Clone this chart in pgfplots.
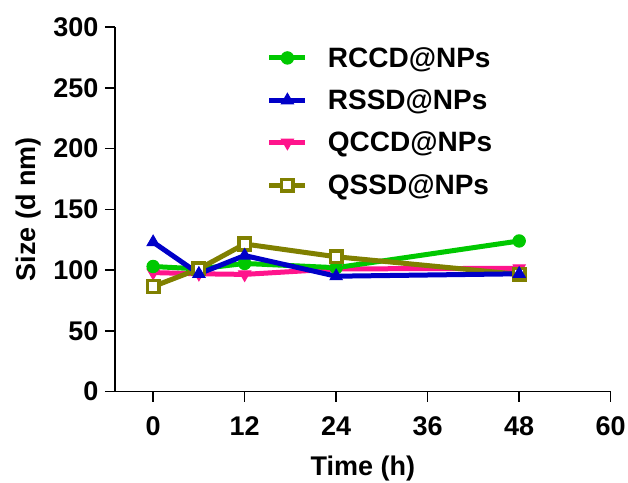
\documentclass[border=0pt]{standalone}
\usepackage{fontspec}
\setmainfont{Liberation Sans}
\usepackage{pgfplots}
\pgfplotsset{compat=1.18}
\definecolor{cgreen}{RGB}{0,200,0}
\definecolor{cblue}{RGB}{0,0,200}
\definecolor{cpink}{RGB}{255,20,140}
\definecolor{colive}{RGB}{128,128,0}
\begin{document}
\begin{tikzpicture}
\path[use as bounding box] (-115pt,-90.3pt) rectangle (513pt,391.7pt);
\begin{axis}[
  at={(0pt,0pt)}, anchor=south west,
  scale only axis, width=495.7pt, height=364.7pt,
  xmin=-5, xmax=60, ymin=0, ymax=300,
  axis x line*=bottom, axis y line*=left,
  axis line style={line width=1.5pt, -},
  xtick={0,12,24,36,48,60}, ytick={0,50,100,150,200,250,300},
  tick align=outside, major tick length=10pt,
  tick style={line width=1.5pt, black},
  /pgf/number format/assume math mode=true,
  tick label style={font=\fontsize{27}{27}\selectfont\bfseries},
  xticklabel style={yshift=-11pt},
  yticklabel style={xshift=-3pt},
  xlabel={Time (h)}, ylabel={Size (d nm)},
  label style={font=\fontsize{27}{27}\selectfont\bfseries},
  xlabel style={at={(axis description cs:0.5,0)}, anchor=center, yshift=-77pt},
  ylabel style={at={(axis description cs:-0.175,0.5)}, anchor=center},
  legend style={draw=none, fill=none, at={(0.3,0.956)}, anchor=north west,
    font=\fontsize{28}{28}\selectfont\bfseries, row sep=17pt,
    /tikz/every odd column/.append style={column sep=18pt}},
  legend cell align=left,
  legend image code/.code={\draw[mark repeat=2,mark phase=2,#1] plot coordinates {(0pt,0pt) (18pt,0pt) (36pt,0pt)};},
]
\addlegendimage{cgreen, line width=5pt, mark=*, mark size=6.2pt, mark options={solid, line width=1pt}}
\addlegendentry{RCCD@NPs}
\addlegendimage{cblue, line width=5pt, mark=triangle*, mark size=7pt, mark options={solid, line width=1pt}}
\addlegendentry{RSSD@NPs}
\addlegendimage{cpink, line width=5pt, mark=triangle*, mark size=7pt, mark options={solid, line width=1pt, rotate=180}}
\addlegendentry{QCCD@NPs}
\addlegendimage{colive, line width=5pt, mark=square*, mark size=5.8pt, mark options={solid, line width=3.5pt, fill=white}}
\addlegendentry{QSSD@NPs}

\addplot[forget plot, cpink, line width=5pt, mark=triangle*, mark size=7pt, mark options={solid, line width=1pt, rotate=180}]
  coordinates {(0,98) (6,97) (12,96.5) (24,101) (48,101.5)};
\addplot[forget plot, cgreen, line width=5pt, mark=*, mark size=6.2pt, mark options={solid, line width=1pt}]
  coordinates {(0,103) (6,101) (12,105.5) (24,102) (48,124)};
\addplot[forget plot, colive, line width=5pt, mark=square*, mark size=5.8pt, mark options={solid, line width=3.5pt, fill=white}]
  coordinates {(0,86.5) (6,101) (12,121.5) (24,111) (48,96.5)};
\addplot[forget plot, cblue, line width=5pt, mark=triangle*, mark size=7pt, mark options={solid, line width=1pt}]
  coordinates {(0,123) (6,97) (12,112) (24,95) (48,97)};
\end{axis}
\end{tikzpicture}
\end{document}
